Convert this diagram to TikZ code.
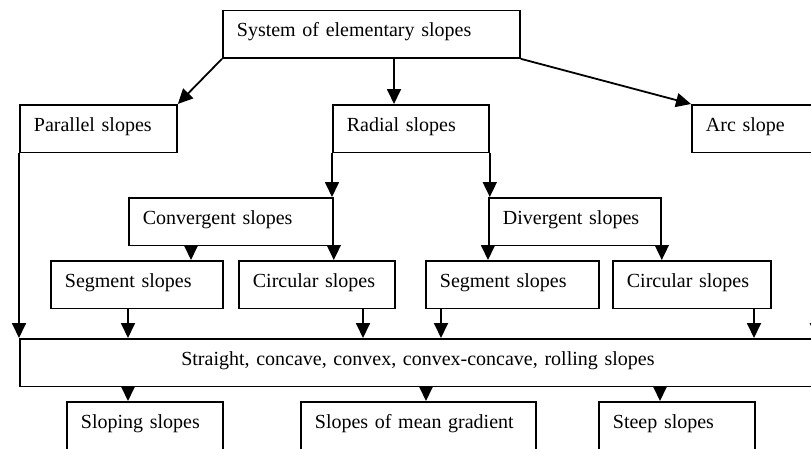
\documentclass[tikz,border=0pt]{standalone}
\usepackage{fontspec}
\setmainfont{Liberation Serif}
\usetikzlibrary{arrows.meta}
\usetikzlibrary{positioning}

\begin{document}
\begin{tikzpicture}[->,>={Triangle[length=15pt,width=14pt]},line width=1.8pt,x=1pt,y=-1pt,
			font=\fontsize{20pt}{24pt}\selectfont]
			\tikzstyle{box}=[draw,rectangle,anchor=north west,align=left,inner xsep=14pt,inner ysep=0pt,
			text height=26.5pt,text depth=21pt]
			\useasboundingbox (0,0) rectangle (811,448);
			
			\node[box,text width=269pt]  (sys)   at (222,9.5) {System of elementary slopes};
			\node[box,text width=129pt]  (par)   at (19,104)  {Parallel slopes};
			\node[box,text width=128pt]  (rad)   at (332,104) {Radial slopes};
			\node[box,text width=128pt]  (arc)   at (691,104) {Arc slope};
			\node[box,text width=176pt]  (conv)  at (128,197) {Convergent slopes};
			\node[box,text width=144pt]  (div)   at (488,197) {Divergent slopes};
			\node[box,text width=144pt]  (segL)  at (50,260)  {Segment slopes};
			\node[box,text width=128pt]  (circL) at (238,260) {Circular slopes};
			\node[box,text width=145pt]  (segR)  at (425,260) {Segment slopes};
			\node[box,text width=130pt]  (circR) at (612,260) {Circular slopes};
			\node[box,text width=768pt,align=center] (forms) at (19,338) {Straight, concave, convex, convex-concave, rolling slopes};
			\node[box,text width=128pt,text depth=22pt]  (gentle) at (66,401)  {Sloping slopes};
			\node[box,text width=207pt,text depth=22pt]  (mean)   at (300,401) {Slopes of mean gradient};
			\node[box,text width=128pt,text depth=22pt]  (steep)  at (598,401) {Steep slopes};
			
			\path (sys.south west) edge (par.north east)
			([xshift=62pt]rad.north west |- sys.south) edge ([xshift=62pt]rad.north west)
			(sys.south east) edge (arc.north west)
			(rad.south west) edge (rad.south west |- conv.north)
			(rad.south east) edge (rad.south east |- div.north)
			([xshift=63pt]conv.south west) edge ([xshift=63pt]conv.south west |- segL.north)
			(conv.south east) edge (conv.south east |- circL.north)
			(div.south west) edge (div.south west |- segR.north)
			(div.south east) edge (div.south east |- circR.north)
			(par.south west) edge (forms.north west)
			([xshift=78pt]segL.south west) edge ([xshift=78pt]segL.south west |- forms.north)
			([xshift=125pt]circL.south west) edge ([xshift=125pt]circL.south west |- forms.north)
			([xshift=16pt]segR.south west) edge ([xshift=16pt]segR.south west |- forms.north)
			([xshift=142pt]circR.south west) edge ([xshift=142pt]circR.south west |- forms.north)
			(arc.south -| forms.north east) edge (forms.north east)
			([xshift=62pt]gentle.north west |- forms.south) edge ([xshift=62pt]gentle.north west)
			([xshift=126pt]mean.north west |- forms.south) edge ([xshift=126pt]mean.north west)
			([xshift=62pt]steep.north west |- forms.south) edge ([xshift=62pt]steep.north west)
			
			;
\end{tikzpicture}
\end{document}
